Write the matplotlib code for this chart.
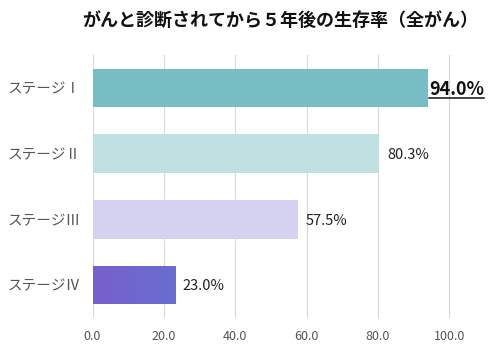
import matplotlib
matplotlib.use("Agg")
import matplotlib.pyplot as plt
import numpy as np
from matplotlib.colors import LinearSegmentedColormap
from matplotlib.lines import Line2D

plt.rcParams['font.family'] = ['Noto Sans CJK JP', 'DejaVu Sans']

title = "がんと診断されてから５年後の生存率（全がん）"
stages = ["ステージⅠ", "ステージⅡ", "ステージⅢ", "ステージⅣ"]
rates = [94.0, 80.3, 57.5, 23.0]
value_labels = ["94.0%", "80.3%", "57.5%", "23.0%"]
colors = ["#76bec4", "#c0e0e2", "#d5d1f0", "#6b6bcf"]
xticks = [0, 20, 40, 60, 80, 100]
xtick_labels = ["0.0", "20.0", "40.0", "60.0", "80.0", "100.0"]

fig = plt.figure(figsize=(4.98, 3.5), dpi=100)
ax = fig.add_axes([92.5 / 498, 1 - 318 / 350, (485 - 92.5) / 498, (318 - 55) / 350])

ypos = np.arange(len(stages))
bars = ax.barh(ypos, rates, height=0.585, color=colors, zorder=2)

# soft purple-to-blue gradient on the last bar
grad = LinearSegmentedColormap.from_list("g", ["#7660cc", "#6a6dd0"])
b = bars[3]
img = ax.imshow(np.linspace(0, 1, 64).reshape(1, -1), cmap=grad, aspect="auto",
                extent=[b.get_x(), b.get_x() + b.get_width(), b.get_y() + b.get_height(), b.get_y()],
                zorder=3)
img.set_clip_path(b)

ax.set_xlim(0, 110)
ax.set_ylim(3.5, -0.5)
ax.set_yticks(ypos)
ax.set_yticklabels(stages, fontsize=10.5, color="#555555")
ax.set_xticks(xticks)
ax.set_xticklabels(xtick_labels, fontsize=9, color="#555555")
ax.tick_params(axis="both", length=0)
ax.tick_params(axis="x", pad=9)
for lbl in ax.get_yticklabels():
    lbl.set_horizontalalignment("left")
# pad in points: labels start near the left edge of the figure
ax.yaxis.set_tick_params(pad=61)
for s in ax.spines.values():
    s.set_visible(False)
ax.grid(axis="x", color="#d9d9d9", linewidth=0.9, zorder=0)
ax.set_axisbelow(True)

texts = []
for i, (v, lab) in enumerate(zip(rates, value_labels)):
    if i == 0:
        t = ax.text(v + 0.3, i + 0.02, lab, va="center", ha="left", fontsize=13,
                    fontweight="bold", color="#111111", zorder=4)
    else:
        t = ax.text(v + 2.2, i + 0.02, lab, va="center", ha="left", fontsize=10.5,
                    color="#222222", zorder=4)
    texts.append(t)

fig.text(280 / 498, 1 - 20 / 350, title, ha="center", va="center",
         fontsize=13, fontweight="bold", color="#111111")

# underline the highlighted value
fig.canvas.draw()
r = fig.canvas.get_renderer()
bb = texts[0].get_window_extent(r)
W, H = fig.bbox.width, fig.bbox.height
yline = (bb.y0 + 1) / H
fig.add_artist(Line2D([bb.x0 / W, bb.x1 / W], [yline, yline], color="#111111",
                      linewidth=1.1, transform=fig.transFigure))

fig.savefig("out.png", dpi=100, facecolor="white")
